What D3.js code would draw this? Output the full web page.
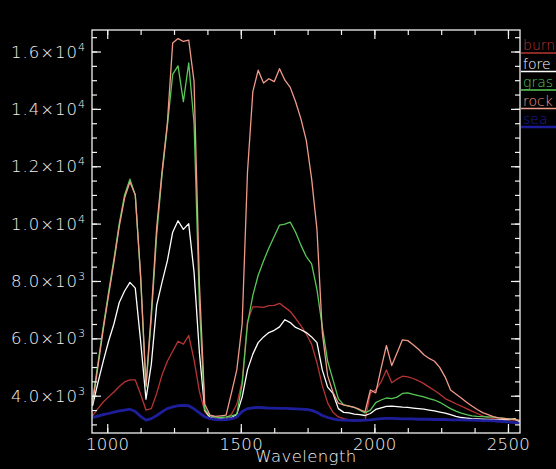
<!DOCTYPE html>
<html><head><meta charset="utf-8">
<script src="https://cdn.jsdelivr.net/npm/d3@7"></script>
<style>html,body{margin:0;padding:0;background:#000;overflow:hidden}</style>
</head><body>
<svg id="chart" width="556" height="469"></svg>
<script>
const wavelengths = [945,965,985,1005,1025,1045,1065,1085,1105,1125,1145,1165,1185,1205,1225,1245,1265,1285,1305,1325,1345,1365,1385,1405,1425,1445,1465,1485,1505,1525,1545,1565,1585,1605,1625,1645,1665,1685,1705,1725,1745,1765,1785,1805,1825,1845,1865,1885,1905,1925,1945,1965,1985,2005,2025,2045,2065,2085,2105,2125,2145,2165,2185,2205,2225,2245,2265,2285,2305,2325,2345,2365,2385,2405,2425,2445,2465,2485,2505,2525,2545];

const burned = [3300,3550,3780,3960,4130,4320,4480,4550,4550,4050,3500,3550,4080,4720,5200,5550,5900,5800,6100,5250,4150,3450,3220,3200,3200,3220,3350,3700,4500,6600,7100,7100,7080,7140,7150,7220,7080,6940,6700,6440,6150,5800,5150,4350,3750,3420,3260,3200,3160,3130,3130,3140,4100,4200,4480,4900,4450,4580,4680,4660,4600,4520,4420,4300,4180,4050,3900,3810,3720,3640,3550,3460,3380,3300,3240,3200,3180,3170,3160,3150,3130];

const forest = [3650,4450,5200,5900,6500,7250,7650,7950,7750,5900,3880,5100,7150,7950,8700,9700,10100,9800,10000,8300,5500,3500,3240,3200,3190,3200,3230,3350,3950,4900,5450,5850,6050,6200,6280,6400,6650,6550,6380,6300,6200,6050,5850,4900,4300,4080,3550,3420,3400,3360,3340,3310,3380,3520,3580,3630,3640,3620,3600,3590,3570,3550,3530,3500,3470,3430,3390,3340,3280,3240,3220,3200,3190,3180,3170,3160,3160,3160,3170,3200,3070];

const grass = [3830,5100,6400,7600,8750,10000,11000,11550,11000,8100,4300,6700,9600,11700,13400,15200,15500,14250,15600,13500,7200,3520,3300,3250,3240,3260,3300,3350,4400,6500,7500,8200,8700,9150,9550,9950,9980,10050,9700,9250,8850,8600,7700,6400,5200,4550,3900,3680,3640,3590,3500,3400,3500,3760,3850,3920,3900,3950,4080,4100,4050,4000,3960,3900,3850,3770,3660,3550,3460,3390,3340,3300,3280,3270,3260,3250,3230,3210,3190,3170,3130];

const rock = [3710,5000,6300,7500,8650,9900,10900,11450,11000,8200,4350,6900,9850,11800,13500,16300,16450,16350,16400,14950,7900,3700,3320,3280,3300,3320,4100,4900,6500,11800,14600,15350,14900,15050,14950,15400,15000,14750,14250,13650,12900,11570,9800,6200,4700,4120,3740,3680,3640,3590,3520,3440,4200,4100,4950,5750,5050,5500,5950,5920,5780,5620,5430,5300,5200,4980,4650,4200,4060,3920,3770,3640,3520,3410,3340,3270,3230,3210,3190,3180,3130];

const sea = [3240,3290,3340,3380,3430,3470,3500,3530,3450,3280,3150,3200,3310,3440,3550,3610,3650,3660,3650,3540,3400,3260,3200,3170,3160,3170,3190,3260,3450,3550,3580,3590,3580,3570,3570,3560,3560,3550,3540,3530,3520,3490,3420,3310,3240,3190,3160,3150,3140,3130,3140,3150,3160,3180,3200,3210,3210,3200,3190,3190,3190,3180,3180,3180,3170,3170,3170,3160,3160,3160,3150,3150,3140,3130,3130,3120,3110,3100,3080,3060,3040];

const seriesNames = ["burn", "fore", "gras", "rock", "sea"];
const seriesColors = ["#b83434", "#ffffff", "#58c858", "#f09a8a", "#1e1e9a"];
const seriesData = [burned, forest, grass, rock, sea];

const xTicks = [1000, 1500, 2000, 2500];
const xTickLabels = ["1000", "1500", "2000", "2500"];
const xMinorTicks = [1000,1125,1250,1375,1500,1625,1750,1875,2000,2125,2250,2375,2500];
const yTicks = [4000, 6000, 8000, 10000, 12000, 14000, 16000];
const yTickMantissa = ["4.0", "6.0", "8.0", "1.0", "1.2", "1.4", "1.6"];
const yTickExponent = ["3", "3", "3", "4", "4", "4", "4"];
const yMinorTicks = [3000,3500,4000,4500,5000,5500,6000,6500,7000,7500,8000,8500,9000,9500,10000,10500,11000,11500,12000,12500,13000,13500,14000,14500,15000,15500,16000,16500];
const xTitle = "Wavelength";

const svg = d3.select("#chart");
const L = 92, R = 520, T = 30, B = 433;
const x = d3.scaleLinear().domain([943, 2545]).range([L, R]);
const y = d3.scaleLinear().domain([2700, 16750]).range([B, T]);
const font = "'DejaVu Sans', sans-serif";
const fg = "#f2f2f2";

svg.append("rect").attr("width", 556).attr("height", 469).attr("fill", "#000");

svg.append("defs").append("clipPath").attr("id", "clip")
  .append("rect").attr("x", L).attr("y", T).attr("width", R - L).attr("height", B - T);

// lines
const line = d3.line().x((d, i) => x(wavelengths[i])).y(d => y(d));
const g = svg.append("g").attr("clip-path", "url(#clip)");
seriesData.forEach((s, k) => {
  g.append("path").datum(s).attr("d", line)
    .attr("fill", "none")
    .attr("stroke", seriesColors[k])
    .attr("stroke-width", k === 4 ? 2.8 : 1.3)
    .attr("stroke-linejoin", "round");
});

// axes
function styleAxis(sel) {
  sel.select(".domain").remove();
  sel.selectAll("line").attr("stroke", fg).attr("stroke-width", 1.2);
}
svg.append("g").attr("transform", `translate(0,${B})`)
  .call(d3.axisBottom(x).tickValues(xMinorTicks).tickSize(-5).tickFormat("")).call(styleAxis);
svg.append("g").attr("transform", `translate(0,${T})`)
  .call(d3.axisTop(x).tickValues(xMinorTicks).tickSize(-5).tickFormat("")).call(styleAxis);
const xb = svg.append("g").attr("transform", `translate(0,${B})`)
  .call(d3.axisBottom(x).tickValues(xTicks).tickSize(-9).tickPadding(5).tickFormat((d, i) => xTickLabels[i]));
styleAxis(xb);
xb.selectAll("text").attr("fill", fg).attr("font-family", font).attr("font-size", 16.5).attr("font-weight", 300).attr("letter-spacing", 0.4);
svg.append("g").attr("transform", `translate(0,${T})`)
  .call(d3.axisTop(x).tickValues(xTicks).tickSize(-9).tickFormat("")).call(styleAxis);

svg.append("g").attr("transform", `translate(${L},0)`)
  .call(d3.axisLeft(y).tickValues(yMinorTicks).tickSize(-5).tickFormat("")).call(styleAxis);
svg.append("g").attr("transform", `translate(${R},0)`)
  .call(d3.axisRight(y).tickValues(yMinorTicks).tickSize(-5).tickFormat("")).call(styleAxis);
svg.append("g").attr("transform", `translate(${L},0)`)
  .call(d3.axisLeft(y).tickValues(yTicks).tickSize(-9).tickFormat("")).call(styleAxis);
svg.append("g").attr("transform", `translate(${R},0)`)
  .call(d3.axisRight(y).tickValues(yTicks).tickSize(-9).tickFormat("")).call(styleAxis);

// y labels
const yl = svg.append("g").selectAll("text").data(yTicks).join("text")
  .attr("x", 86).attr("y", d => y(d) + 6)
  .attr("text-anchor", "end")
  .attr("fill", fg).attr("font-family", font).attr("font-size", 16.5).attr("font-weight", 300)
  .attr("letter-spacing", 1);
yl.append("tspan").text((d, i) => yTickMantissa[i] + "×10");
yl.append("tspan").attr("dy", -7).attr("font-size", 11).text((d, i) => yTickExponent[i]);

// frame
svg.append("rect").attr("x", L).attr("y", T).attr("width", R - L).attr("height", B - T)
  .attr("fill", "none").attr("stroke", fg).attr("stroke-width", 1.3);

// x title
svg.append("text").attr("x", (L + R) / 2).attr("y", 462)
  .attr("text-anchor", "middle").attr("fill", fg).attr("font-family", font)
  .attr("font-size", 16.5).attr("font-weight", 300).attr("letter-spacing", 0.4).text(xTitle);

// legend
const lg = svg.append("g");
seriesNames.forEach((n, i) => {
  const cy = 45 + i * 18.5;
  lg.append("text").attr("x", 523).attr("y", cy + 5)
    .attr("fill", seriesColors[i]).attr("font-family", font).attr("font-size", 14).attr("font-weight", 300)
    .text(n);
  lg.append("line").attr("x1", 521).attr("x2", 556).attr("y1", cy + 8).attr("y2", cy + 8)
    .attr("stroke", seriesColors[i]).attr("stroke-width", i === 4 ? 2.5 : 1.5);
});
</script>
</body></html>
